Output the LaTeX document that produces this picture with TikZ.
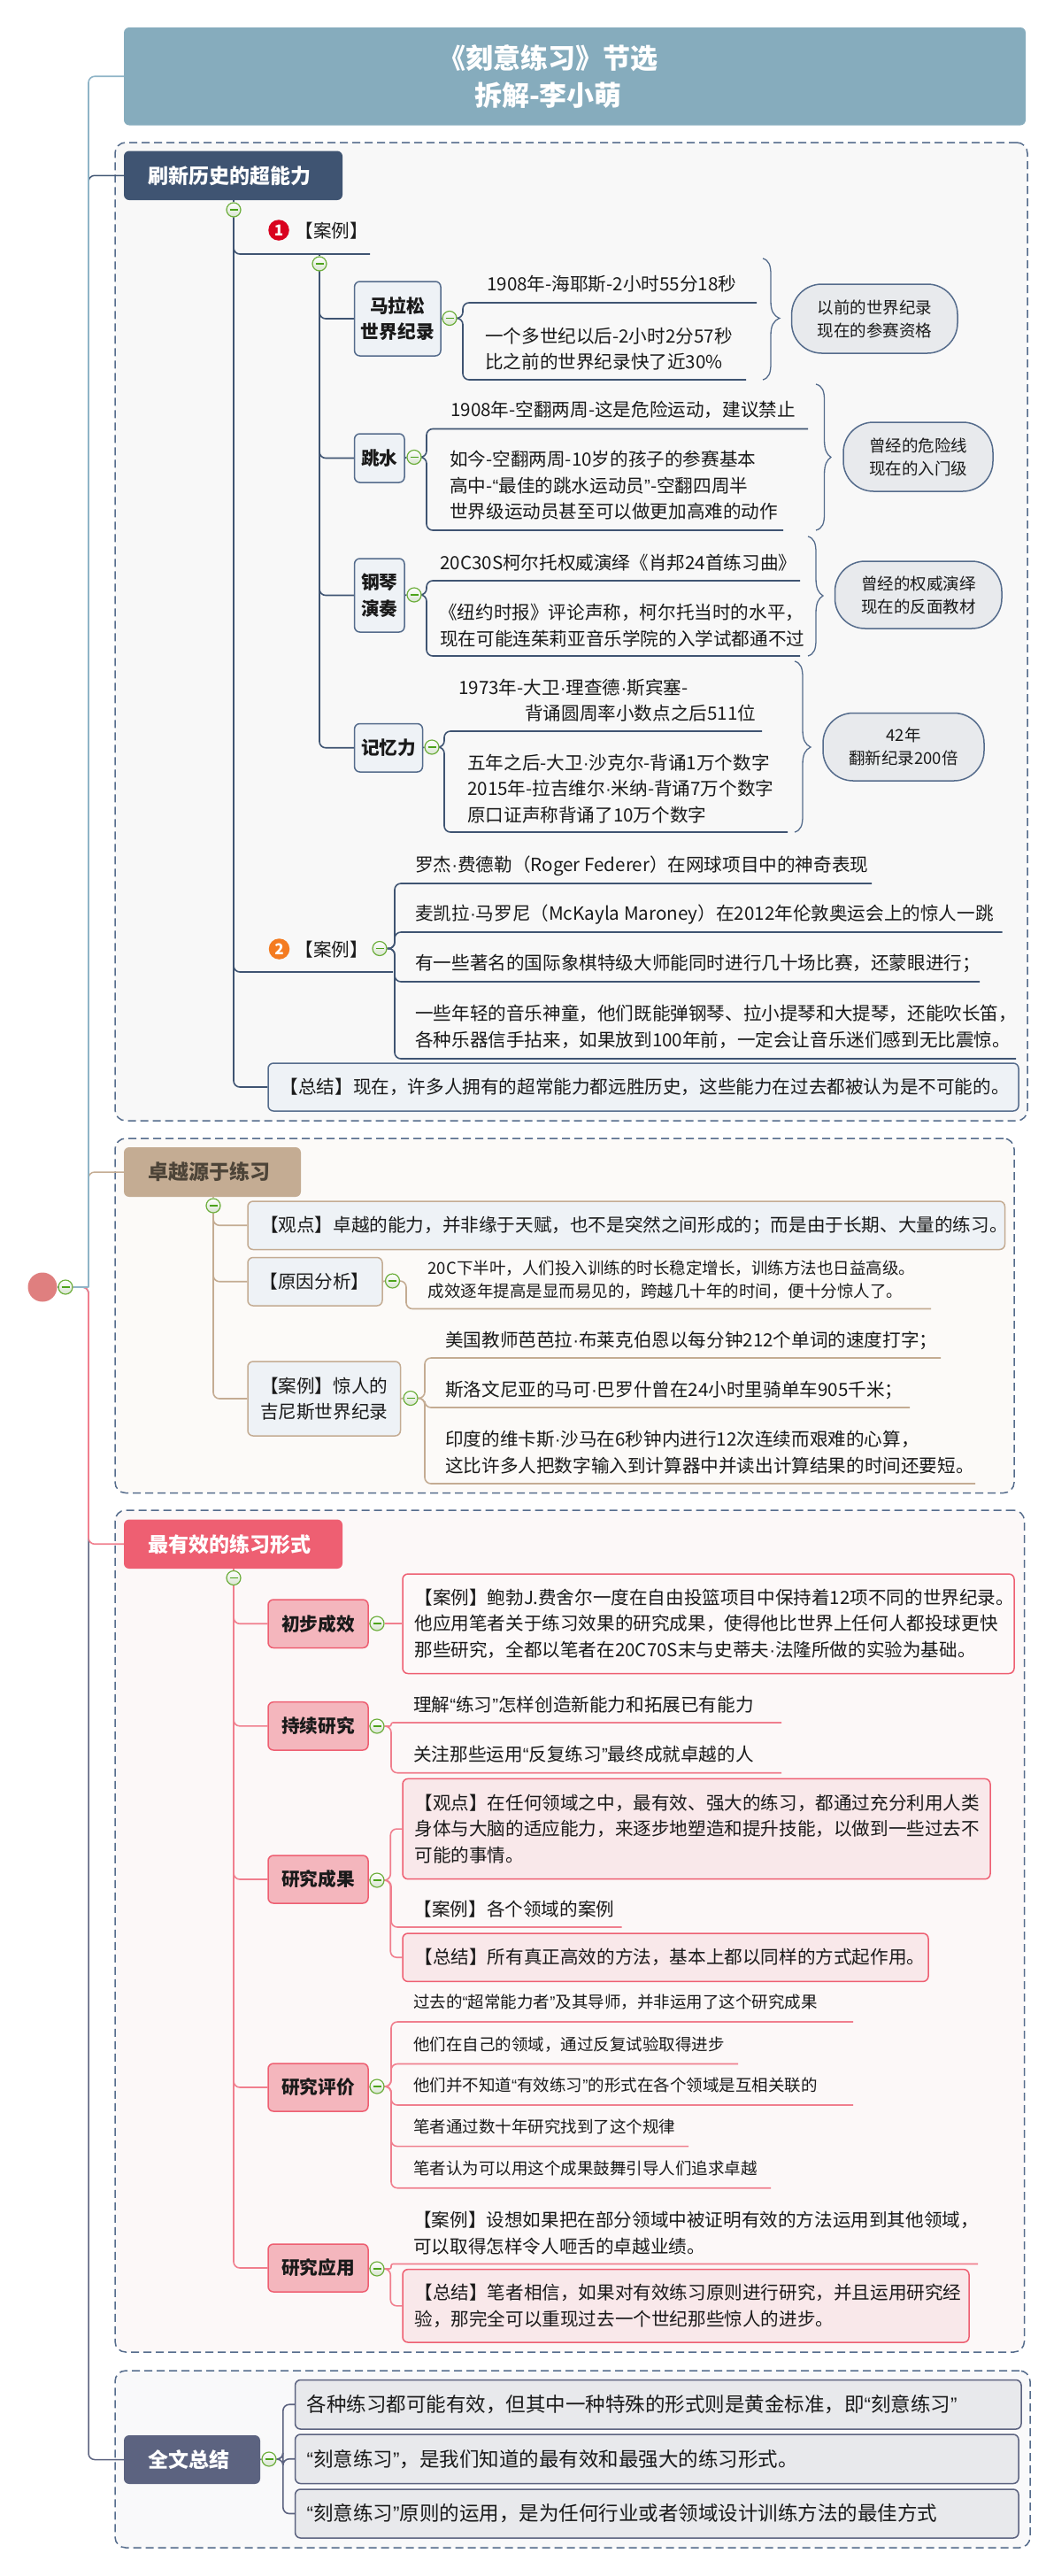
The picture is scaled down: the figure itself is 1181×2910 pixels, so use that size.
\documentclass[tikz,border=0pt]{standalone}
\usepackage{fontspec}
\setmainfont{Noto Sans CJK SC}
\newfontfamily\latf{Liberation Sans}
\usetikzlibrary{calc}
\newcommand\qopen{{\latf “}}
\newcommand\qclose{{\latf ”}}
\newcommand\mdot{{\latf ·}}
\definecolor{navy}{HTML}{3F5472}
\definecolor{navyl}{HTML}{556C8C}
\definecolor{teal}{HTML}{86ACBD}
\definecolor{tealb}{HTML}{8FB4C7}
\definecolor{tan}{HTML}{C4AC93}
\definecolor{redd}{HTML}{EE5F72}
\definecolor{redl}{HTML}{F07F8E}
\definecolor{slate}{HTML}{5C6380}
\definecolor{ink}{HTML}{1A1A1A}
\definecolor{brownink}{HTML}{4D4438}
\definecolor{EEF2F6}{HTML}{EEF2F6}
\definecolor{F4B6BD}{HTML}{F4B6BD}
\definecolor{FDF9F9}{HTML}{FDF9F9}
\definecolor{F9E8EA}{HTML}{F9E8EA}
\definecolor{E8E9EC}{HTML}{E8E9EC}
\definecolor{E8EAED}{HTML}{E8EAED}
\definecolor{D8E4D0}{HTML}{D8E4D0}
\definecolor{F8F8F8}{HTML}{F8F8F8}
\definecolor{FCFAF8}{HTML}{FCFAF8}
\definecolor{FCF8F8}{HTML}{FCF8F8}
\definecolor{F9F9FA}{HTML}{F9F9FA}
\definecolor{DF7F7F}{HTML}{DF7F7F}
\definecolor{D9021F}{HTML}{D9021F}
\definecolor{F47B20}{HTML}{F47B20}
\definecolor{collg}{HTML}{6DAE3C}
\definecolor{collm}{HTML}{4CA31A}
\pgfdeclarelayer{bgl}
\pgfdeclarelayer{conn}
\pgfsetlayers{bgl,conn,main}
\tikzset{
 f31/.style={font=\bfseries\fontsize{31}{42}\selectfont},
 f23/.style={font=\bfseries\fontsize{23}{28}\selectfont},
 fb/.style={font=\bfseries\fontsize{20.7}{29.5}\selectfont},
 f206/.style={font=\fontsize{20.6}{29.5}\selectfont},
 f185/.style={font=\fontsize{18.5}{26}\selectfont},
 f225/.style={font=\fontsize{22.5}{29}\selectfont},
 txt/.style={text=ink,inner sep=0pt,anchor=west,align=left},
 box/.style={rounded corners=6pt,line width=1.5pt,inner ysep=0pt,text=ink},
 nbox/.style={box,draw=navyl,fill=EEF2F6},
 tbox/.style={box,draw=tan,fill=EEF2F6},
 pbox/.style={box,draw=redd,fill=F4B6BD},
 wbox/.style={box,draw=redd,fill=FDF9F9},
 lbox/.style={box,draw=redd,fill=F9E8EA},
 gbox/.style={box,draw=slate,fill=E8E9EC},
 bub/.style={rounded corners=34pt,line width=1.5pt,draw=navyl,fill=E8EAED,text=ink,f185,inner sep=0pt},
 hdr/.style={rounded corners=6pt,draw=none,inner sep=0pt},
 dbox/.style={rounded corners=12pt,draw=navyl,line width=1.5pt,dash pattern=on 9pt off 5pt},
 coll/.style={circle,minimum size=16pt,inner sep=0pt,draw=collg,line width=1.2pt,
   top color=white,bottom color=D8E4D0,
   path picture={\draw[line width=1.1pt,collm] (path picture bounding box.center) ++(-4.5pt,0pt) -- ++(9pt,0pt);}},
 numdot/.style={circle,minimum size=23.5pt,inner sep=0pt,text=white,font=\bfseries\fontsize{17}{17}\selectfont},
 lnav/.style={draw=navy,line width=1.6pt,rounded corners=7pt},
 ltan/.style={draw=tan,line width=1.6pt,rounded corners=7pt},
 lred/.style={draw=redl,line width=1.6pt,rounded corners=7pt},
 lsla/.style={draw=slate,line width=1.6pt,rounded corners=7pt},
}
% box by corners, centred text
\newcommand\bx[7][]{%
 \pgfmathsetmacro\bcx{(#3+#5)/2}\pgfmathsetmacro\bcy{(#4+#6)/2}%
 \pgfmathsetmacro\bw{#5-#3}\pgfmathsetmacro\bh{#6-#4}%
 \node[#1,minimum width=\bw pt,minimum height=\bh pt,inner xsep=0pt,align=center] (#2) at (\bcx,\bcy) {#7};}
% box by corners, left text with pad
\newcommand\lbx[8][]{%
 \pgfmathsetmacro\bcx{(#3+#5)/2}\pgfmathsetmacro\bcy{(#4+#6)/2}%
 \pgfmathsetmacro\bw{#5-#3}\pgfmathsetmacro\bh{#6-#4}\pgfmathsetmacro\tw{#5-#3-2*#7}%
 \node[#1,minimum width=\bw pt,minimum height=\bh pt,inner xsep=#7 pt,text width=\tw pt,align=left] (#2) at (\bcx,\bcy) {#8};}
% underlined leaf: style, name, x, y, text, bracket x, underline y, end x
\newcommand\leaf[8][]{%
 \node[txt,#1] (#2) at (#3,#4) {#5};
 \coordinate (#2s) at (#6,#7);\coordinate (#2e) at (#8,#7);}
\newcommand\lk[3]{\begin{pgfonlayer}{conn}\draw[#1] (#2.east) -| (#3s) -- (#3e);\end{pgfonlayer}}
\newcommand\lkb[3]{\begin{pgfonlayer}{conn}\draw[#1] (#2.east) -| ($(#3.west)+(-13,0)$) -- (#3.west);\end{pgfonlayer}}
\newcommand\tr[3]{\begin{pgfonlayer}{conn}\draw[#1] (#2.south) |- (#3.west);\end{pgfonlayer}}
\newcommand\stem[3]{\begin{pgfonlayer}{conn}\draw[#1] (#2.north) -- (#2.north |- #3);\end{pgfonlayer}}
% brace: name, x0, xs, xt, y0, ym, y1
\newcommand\brc[7]{%
 \coordinate (#1) at (#4,#6);
 \draw[navyl,line width=1.3pt] (#2,#5) .. controls ({#3-2},{#5+2}) and (#3,{#5+8}) .. (#3,{#5+18})
  -- (#3,{#6-20}) .. controls (#3,{#6-8}) and ({#3+3},{#6-3}) .. (#1)
  .. controls ({#3+3},{#6+3}) and (#3,{#6+8}) .. (#3,{#6+20})
  -- (#3,{#7-18}) .. controls (#3,{#7-8}) and ({#3-2},{#7-2}) .. (#2,#7);}
\begin{document}
\begin{tikzpicture}[x=1pt,y=-1pt]
\useasboundingbox (0,0) rectangle (1181,2910);
% group frames
\begin{pgfonlayer}{bgl}
\bx[dbox,fill=F8F8F8]{frameA}{130}{161}{1161}{1266}{}
\bx[dbox,fill=FCFAF8]{frameB}{130}{1286}{1146}{1686.5}{}
\bx[dbox,fill=FCF8F8]{frameC}{130}{1706}{1157.5}{2657}{}
\bx[dbox,fill=F9F9FA]{frameD}{130}{2678}{1164}{2878}{}
\end{pgfonlayer}
% root
\node[circle,fill=DF7F7F,minimum size=33pt,inner sep=0pt] (root) at (48,1454) {};
\node[coll] (rootc) at (74,1454) {};
% title
\bx[hdr,fill=teal,text=white,f31]{title}{140}{31}{1159}{141.5}{《刻意练习》节选\hspace*{60pt}\\拆解-李小萌\hspace*{60pt}}
% section A
\lbx[hdr,fill=navy,text=white,f23]{secA}{140}{170.5}{387}{226}{27}{刷新历史的超能力}
\node[coll] (cA) at (264,237) {};
\node[numdot,fill=D9021F] (m1) at (315,260) {1};
\leaf[f206]{caseA}{333.5}{261}{【案例】}{264}{287}{418}
\node[coll] (cB) at (361,298) {};
\bx[nbox,fb]{n1}{400.6}{318}{498}{402}{马拉松\\世界纪录}
\node[coll] (c1) at (508,359.5) {};
\leaf[f206]{l11}{550}{321}{1908年-海耶斯-2小时55分18秒}{523}{342}{855}
\leaf[f206]{l12}{548}{394}{一个多世纪以后-2小时2分57秒\\比之前的世界纪录快了近30\%}{523}{429}{843}
\brc{b1}{862}{871}{881}{292}{359.5}{429}
\bx[bub]{s1}{894.6}{321}{1082}{399}{以前的世界纪录\\现在的参赛资格}
\bx[nbox,fb]{n2}{400.6}{490}{457}{545}{跳水}
\node[coll] (c2) at (468,516.5) {};
\leaf[f206]{l21}{509}{463}{1908年-空翻两周-这是危险运动，建议禁止}{482}{484.5}{913}
\leaf[f206]{l22}{508}{548.5}{如今-空翻两周-10岁的孩子的参赛基本\\高中-\qopen{}最佳的跳水运动员\qclose{}-空翻四周半\\世界级运动员甚至可以做更加高难的动作}{482}{599}{885}
\brc{b2}{922}{931.5}{939}{434}{516.5}{599}
\bx[bub]{s2}{953}{477}{1122}{555}{曾经的危险线\\现在的入门级}
\bx[nbox,fb]{n3}{400.6}{631}{457}{714}{钢琴\\演奏}
\node[coll] (c3) at (468,672) {};
\leaf[f206]{l31}{497}{636}{20C30S柯尔托权威演绎《肖邦24首练习曲》}{482}{656}{904}
\leaf[f206]{l32}{497}{706.5}{\hspace*{-1pt}《纽约时报》评论声称，柯尔托当时的水平，\\现在可能连茱莉亚音乐学院的入学试都通不过}{482}{741}{904}
\brc{b3}{913}{922}{930}{606}{673}{741}
\bx[bub]{s3}{943.5}{634}{1132}{710}{曾经的权威演绎\\现在的反面教材}
\bx[nbox,fb]{n4}{400.6}{817.5}{477.5}{872}{记忆力}
\node[coll] (c4) at (488,844) {};
\leaf[f206]{l41}{518}{791}{1973年-大卫\mdot{}理查德\mdot{}斯宾塞-\\\hspace*{75pt}背诵圆周率小数点之后511位}{502}{826}{861}
\leaf[f206]{l42}{528}{891}{五年之后-大卫\mdot{}沙克尔-背诵1万个数字\\2015年-拉吉维尔\mdot{}米纳-背诵7万个数字\\原口证声称背诵了10万个数字}{502}{940}{890}
\brc{b4}{898}{907}{916}{747}{844}{940}
\bx[bub]{s4}{930}{805.5}{1112}{882}{42年\\翻新纪录200倍}
\node[numdot,fill=F47B20] (m2) at (315.5,1072) {2};
\leaf[f206]{caseB}{333.5}{1073}{【案例】}{264}{1098}{444}
\node[coll] (c5) at (429,1071.5) {};
\leaf[f206]{l51}{469}{978}{罗杰\mdot{}费德勒（Roger Federer）在网球项目中的神奇表现}{446}{998}{985}
\leaf[f206]{l52}{469}{1033}{麦凯拉\mdot{}马罗尼（McKayla Maroney）在2012年伦敦奥运会上的惊人一跳}{446}{1053}{1132.5}
\leaf[f206]{l53}{469}{1088.5}{有一些著名的国际象棋特级大师能同时进行几十场比赛，还蒙眼进行；}{446}{1109}{1107}
\leaf[f206]{l54}{469}{1160}{一些年轻的音乐神童，他们既能弹钢琴、拉小提琴和大提琴，还能吹长笛，\\各种乐器信手拈来，如果放到100年前，一定会让音乐迷们感到无比震惊。}{446}{1196}{1148}
\lbx[nbox,f206]{sumA}{303}{1201}{1151}{1255}{13.6}{【总结】现在，许多人拥有的超常能力都远胜历史，这些能力在过去都被认为是不可能的。}
% section B
\lbx[hdr,fill=tan,text=brownink,f23]{secB}{140}{1296}{340}{1352}{27}{卓越源于练习}
\node[coll] (cC) at (241,1362) {};
\lbx[tbox,f206]{p1}{280}{1357}{1135.5}{1411.5}{14}{【观点】卓越的能力，并非缘于天赋，也不是突然之间形成的；而是由于长期、大量的练习。}
\lbx[tbox,f206]{p2}{280}{1420.5}{432}{1475}{13.6}{【原因分析】}
\node[coll] (c6) at (443.5,1447) {};
\leaf[f185]{l61}{483.5}{1446}{20C下半叶，人们投入训练的时长稳定增长，训练方法也日益高级。\\成效逐年提高是显而易见的，跨越几十年的时间，便十分惊人了。}{459}{1478.5}{1052}
\bx[tbox,f206]{p3}{280}{1538}{452.5}{1622}{【案例】惊人的\\吉尼斯世界纪录}
\node[coll] (c7) at (464,1579.5) {};
\leaf[f206]{l71}{503}{1514}{美国教师芭芭拉\mdot{}布莱克伯恩以每分钟212个单词的速度打字；}{480}{1534}{1063}
\leaf[f206]{l72}{503}{1570}{斯洛文尼亚的马可\mdot{}巴罗什曾在24小时里骑单车905千米；}{480}{1590}{1028}
\leaf[f206]{l73}{503}{1640.5}{印度的维卡斯\mdot{}沙马在6秒钟内进行12次连续而艰难的心算，\\这比许多人把数字输入到计算器中并读出计算结果的时间还要短。}{480}{1676}{1102}
% section C
\lbx[hdr,fill=redd,text=white,f23]{secC}{140}{1716.5}{387}{1772}{27}{最有效的练习形式}
\node[coll] (cD) at (264,1782.5) {};
\bx[pbox,fb]{q1}{303}{1807}{416}{1861.5}{初步成效}
\node[coll] (d1) at (426,1834) {};
\lbx[wbox,f206]{r1}{455}{1778}{1146}{1890.5}{13.5}{【案例】鲍勃J.费舍尔一度在自由投篮项目中保持着12项不同的世界纪录。\\他应用笔者关于练习效果的研究成果，使得他比世界上任何人都投球更快\\那些研究，全都以笔者在20C70S末与史蒂夫\mdot{}法隆所做的实验为基础。}
\bx[pbox,fb]{q2}{303}{1922.7}{416}{1977}{持续研究}
\node[coll] (d2) at (426,1950) {};
\leaf[f206]{l81}{467}{1926}{理解\qopen{}练习\qclose{}怎样创造新能力和拓展已有能力}{442}{1946}{883}
\leaf[f206]{l82}{467}{1982}{关注那些运用\qopen{}反复练习\qclose{}最终成就卓越的人}{442}{2002.7}{883}
\bx[pbox,fb]{q3}{303}{2096}{416}{2150}{研究成果}
\node[coll] (d3) at (426,2124) {};
\lbx[lbox,f206]{r3}{455}{2009.4}{1119}{2122.7}{13.5}{【观点】在任何领域之中，最有效、强大的练习，都通过充分利用人类\\身体与大脑的适应能力，来逐步地塑造和提升技能，以做到一些过去不\\可能的事情。}
\leaf[f206]{l83}{467.5}{2157}{【案例】各个领域的案例}{442}{2177}{702.5}
\lbx[lbox,f206]{r4}{455}{2184}{1049}{2238.4}{13.5}{【总结】所有真正高效的方法，基本上都以同样的方式起作用。}
\bx[pbox,fb]{q4}{303}{2331}{416}{2385}{研究评价}
\node[coll] (d4) at (426,2357) {};
\leaf[f185]{l91}{467}{2262}{过去的\qopen{}超常能力者\qclose{}及其导师，并非运用了这个研究成果}{442}{2284}{964}
\leaf[f185]{l92}{467}{2309.5}{他们在自己的领域，通过反复试验取得进步}{442}{2331.5}{834}
\leaf[f185]{l93}{467}{2355}{他们并不知道\qopen{}有效练习\qclose{}的形式在各个领域是互相关联的}{442}{2378}{964}
\leaf[f185]{l94}{467}{2402}{笔者通过数十年研究找到了这个规律}{442}{2424.6}{778}
\leaf[f185]{l95}{467}{2449}{笔者认为可以用这个成果鼓舞引导人们追求卓越}{442}{2471.7}{871}
\bx[pbox,fb]{q5}{303}{2535}{416}{2589}{研究应用}
\node[coll] (d5) at (426,2563) {};
\leaf[f206]{la1}{467}{2522.5}{【案例】设想如果把在部分领域中被证明有效的方法运用到其他领域，\\可以取得怎样令人咂舌的卓越业绩。}{442}{2557.5}{1105}
\lbx[lbox,f206]{r5}{455}{2563.6}{1095}{2646}{13.5}{【总结】笔者相信，如果对有效练习原则进行研究，并且运用研究经\\验，那完全可以重现过去一个世纪那些惊人的进步。}
% section D
\lbx[hdr,fill=slate,text=white,f23]{secD}{140}{2751}{294}{2806}{27}{全文总结}
\node[coll] (cE) at (304,2778) {};
\lbx[gbox,f225]{t1}{333.6}{2688.5}{1154}{2744}{13}{各种练习都可能有效，但其中一种特殊的形式则是黄金标准，即\qopen{}刻意练习\qclose}
\lbx[gbox,f225]{t2}{333.6}{2750}{1151}{2805.5}{13}{\qopen{}刻意练习\qclose{}，是我们知道的最有效和最强大的练习形式。}
\lbx[gbox,f225]{t3}{333.6}{2812}{1151}{2867}{13}{\qopen{}刻意练习\qclose{}原则的运用，是为任何行业或者领域设计训练方法的最佳方式}
% connectors
\coordinate (spine) at (100,1454);
\begin{pgfonlayer}{conn}
\draw[draw=slate,line width=1.5pt,rounded corners=7pt] (rootc.east) -- (spine) |- (secD.west);
\draw[draw=redl,line width=1.6pt,rounded corners=7pt,yshift=1pt] (rootc.east) -- (spine) |- (secC.west);
\draw[draw=tan,line width=1.5pt,rounded corners=7pt] (spine) |- (secB.west);
\draw[draw=navy,line width=1.5pt,rounded corners=7pt] (spine) |- (secA.west);
\draw[draw=tealb,line width=1.6pt,rounded corners=7pt,yshift=-1pt] (rootc.east) -- (spine);
\draw[draw=tealb,line width=1.6pt,rounded corners=7pt] (spine) |- (title.west);
\draw[draw=navy,line width=1.5pt] (root.east) -- (rootc.west);
\end{pgfonlayer}
% A
\stem{lnav}{cA}{secA.south}
\begin{pgfonlayer}{conn}
\draw[lnav] (cA.south) |- (caseAe);
\draw[lnav] (cA.south) |- (caseBe);
\end{pgfonlayer}
\tr{lnav}{cA}{sumA}
\stem{lnav}{cB}{caseAe}
\tr{lnav}{cB}{n1}\tr{lnav}{cB}{n2}\tr{lnav}{cB}{n3}\tr{lnav}{cB}{n4}
\begin{pgfonlayer}{conn}
\draw[lnav] (n1.east) -- (c1.west);\draw[lnav] (n2.east) -- (c2.west);
\draw[lnav] (n3.east) -- (c3.west);\draw[lnav] (n4.east) -- (c4.west);
\end{pgfonlayer}
\lk{lnav}{c1}{l11}\lk{lnav}{c1}{l12}
\lk{lnav}{c2}{l21}\lk{lnav}{c2}{l22}
\lk{lnav}{c3}{l31}\lk{lnav}{c3}{l32}
\lk{lnav}{c4}{l41}\lk{lnav}{c4}{l42}
\lk{lnav}{c5}{l51}\lk{lnav}{c5}{l52}\lk{lnav}{c5}{l53}\lk{lnav}{c5}{l54}
% B
\stem{ltan}{cC}{secB.south}
\tr{ltan}{cC}{p1}\tr{ltan}{cC}{p2}\tr{ltan}{cC}{p3}
\begin{pgfonlayer}{conn}
\draw[ltan] (p2.east) -- (c6.west);\draw[ltan] (p3.east) -- (c7.west);
\end{pgfonlayer}
\lk{ltan}{c6}{l61}
\lk{ltan}{c7}{l71}\lk{ltan}{c7}{l72}\lk{ltan}{c7}{l73}
% C
\stem{lred}{cD}{secC.south}
\tr{lred}{cD}{q1}\tr{lred}{cD}{q2}\tr{lred}{cD}{q3}\tr{lred}{cD}{q4}\tr{lred}{cD}{q5}
\begin{pgfonlayer}{conn}
\draw[lred] (q1.east) -- (d1.west);\draw[lred] (q2.east) -- (d2.west);\draw[lred] (q3.east) -- (d3.west);
\draw[lred] (q4.east) -- (d4.west);\draw[lred] (q5.east) -- (d5.west);
\draw[lred] (d1.east) -- (r1.west |- d1);
\end{pgfonlayer}
\lk{lred,rounded corners=2pt}{d2}{l81}\lk{lred}{d2}{l82}
\lkb{lred}{d3}{r3}\lk{lred}{d3}{l83}\lkb{lred}{d3}{r4}
\lk{lred}{d4}{l91}\lk{lred}{d4}{l92}\lk{lred}{d4}{l93}\lk{lred}{d4}{l94}\lk{lred}{d4}{l95}
\lk{lred,rounded corners=2pt}{d5}{la1}\lkb{lred}{d5}{r5}
% D
\begin{pgfonlayer}{conn}
\draw[lsla] (secD.east) -- (cE.west);
\end{pgfonlayer}
\lkb{lsla}{cE}{t1}\lkb{lsla}{cE}{t2}\lkb{lsla}{cE}{t3}
\end{tikzpicture}
\end{document}
